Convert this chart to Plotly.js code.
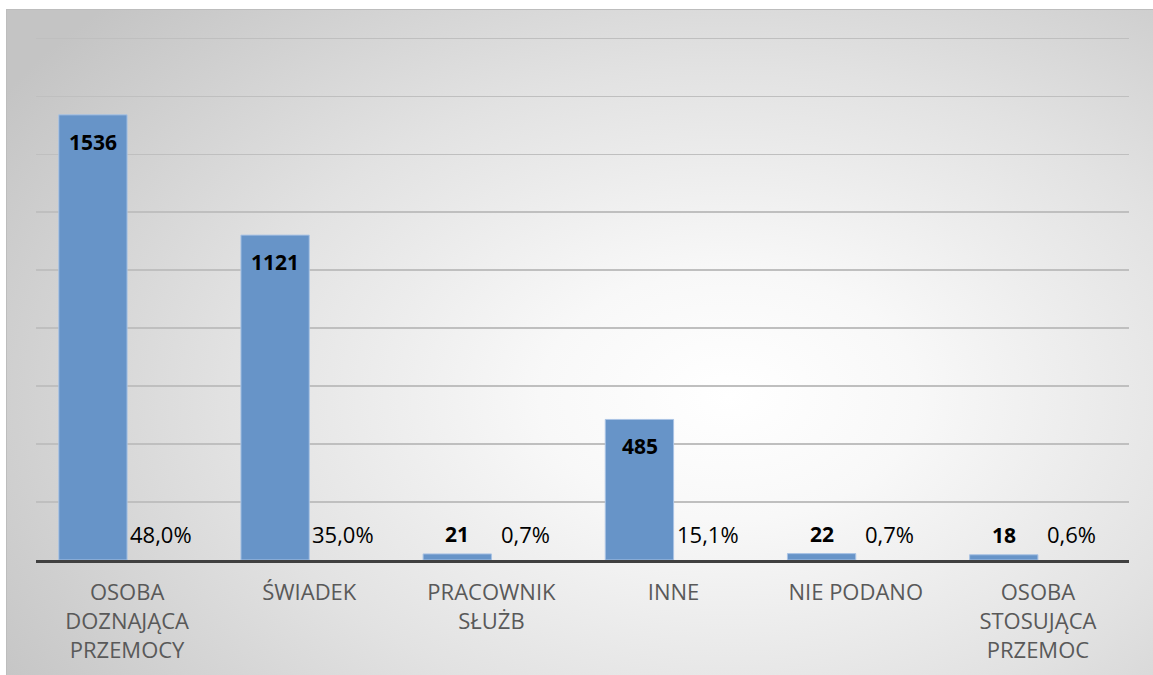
<!DOCTYPE html>
<html>
<head>
<meta charset="utf-8">
<script src="https://cdn.plot.ly/plotly-3.0.1.min.js"></script>
<style>
  html, body { margin: 0; padding: 0; background: #ffffff; }
  #frame {
    position: absolute; left: 6px; top: 9px; width: 1147px; height: 666px;
    border-top: 1px solid #bdbdbd; border-left: 1px solid #bdbdbd;
    box-sizing: border-box;
    background: radial-gradient(ellipse 75% 85% at 63% 58%, #ffffff 0%, #f8f8f8 22%, #e2e2e2 58%, #c4c4c4 100%);
  }
  #chart { position: absolute; left: 0; top: 0; width: 1153px; height: 675px; }
</style>
</head>
<body>
<div id="frame"></div>
<div id="chart"></div>
<script>
const categories = [
  "OSOBA<br>DOZNAJĄCA<br>PRZEMOCY",
  "ŚWIADEK",
  "PRACOWNIK<br>SŁUŻB",
  "INNE",
  "NIE PODANO",
  "OSOBA<br>STOSUJĄCA<br>PRZEMOC"
];
const counts = [1536, 1121, 21, 485, 22, 18];
const shares = [0.480, 0.350, 0.007, 0.151, 0.007, 0.006];
const yMax = 1808;

const font = "'Open Sans', 'Liberation Sans', sans-serif";
const halfBar = 34; // pixel offset of each bar from category centre

const traces = [
  {
    type: "bar",
    x: categories,
    y: counts,
    name: "Liczba",
    marker: { color: "#6794c8", line: { color: "#a9c3e4", width: 1 } },
    textposition: "none",
    hoverinfo: "x+y"
  },
  {
    type: "bar",
    x: categories,
    y: shares,
    name: "Udział",
    marker: { color: "rgba(0,0,0,0)" },
    textposition: "none",
    hoverinfo: "x+y"
  }
];

const fmtPct = v => (v * 100).toFixed(1).replace(".", ",") + "%";

const annotations = [];
categories.forEach((c, i) => {
  const big = counts[i] / yMax > 0.1;
  annotations.push({
    x: c, y: counts[i], xref: "x", yref: "y",
    text: "<b>" + counts[i] + "</b>",
    showarrow: false,
    xshift: -halfBar,
    yanchor: big ? "top" : "bottom",
    yshift: big ? -11 : 4,
    font: { family: font, size: 21, color: "#000000" }
  });
  annotations.push({
    x: c, y: shares[i], xref: "x", yref: "y",
    text: fmtPct(shares[i]),
    showarrow: false,
    xshift: halfBar,
    yanchor: "bottom",
    yshift: 9,
    font: { family: font, size: 22, color: "#000000" }
  });
});

const layout = {
  width: 1153,
  height: 675,
  margin: { l: 36, r: 24, t: 36, b: 115 },
  paper_bgcolor: "rgba(0,0,0,0)",
  plot_bgcolor: "rgba(0,0,0,0)",
  showlegend: false,
  barmode: "group",
  bargap: 0.25,
  bargroupgap: 0,
  font: { family: font, size: 17, color: "#595959" },
  annotations: annotations,
  xaxis: {
    type: "category",
    showgrid: false,
    showline: true,
    linecolor: "#404040",
    linewidth: 3,
    ticks: "",
    ticklabelstandoff: 11,
    tickfont: { family: font, size: 22, color: "#595959" },
    zeroline: false,
    fixedrange: true
  },
  yaxis: {
    range: [0, yMax],
    dtick: 200,
    showticklabels: false,
    showgrid: true,
    gridcolor: "#bfbfbf",
    gridwidth: 1.5,
    zeroline: false,
    showline: false,
    ticks: "",
    fixedrange: true
  }
};

Plotly.newPlot("chart", traces, layout, { displayModeBar: false, staticPlot: true });
</script>
</body>
</html>
